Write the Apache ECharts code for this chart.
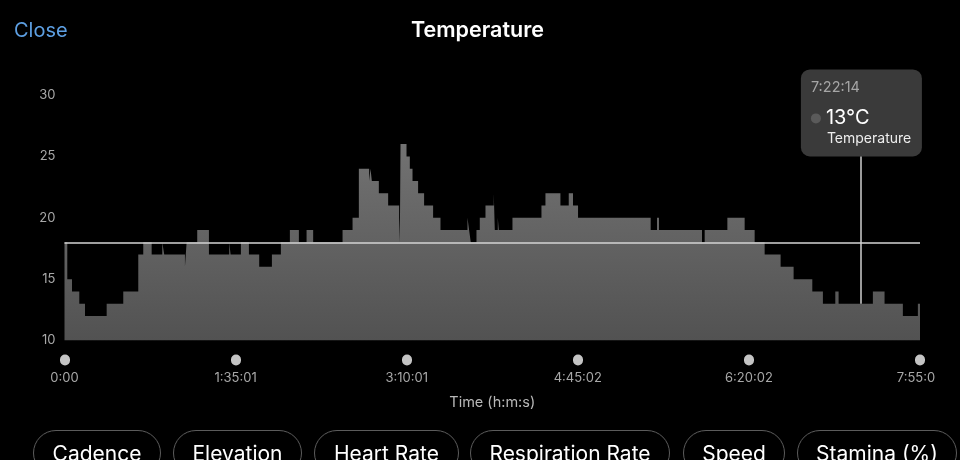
<!DOCTYPE html>
<html>
<head>
<meta charset="utf-8">
<title>Temperature</title>
<script src="https://cdn.jsdelivr.net/npm/echarts@6/dist/echarts.min.js"></script>
<style>
  html, body {
    margin: 0;
    padding: 0;
    background: #000;
    font-family: Inter, "Noto Sans", sans-serif;
  }
  .page {
    position: relative;
    width: 960px;
    height: 460px;
    overflow: hidden;
  }
  #chart {
    position: absolute;
    left: 0;
    top: 0;
    width: 935px;
    height: 460px;
  }
  .pill {
    position: absolute;
    top: 430px;
    height: 46px;
    box-sizing: border-box;
    border: 1px solid #5c5c5c;
    border-radius: 23px;
    color: #fff;
    font-size: 21px;
    line-height: 46px;
    text-align: center;
  }
</style>
</head>
<body>
<div class="page">
  <div id="chart"></div>
  <div class="pill" style="left:33px;width:128px">Cadence</div>
  <div class="pill" style="left:173px;width:129px">Elevation</div>
  <div class="pill" style="left:314px;width:145px">Heart Rate</div>
  <div class="pill" style="left:470px;width:200px">Respiration Rate</div>
  <div class="pill" style="left:683px;width:102px">Speed</div>
  <div class="pill" style="left:797px;width:160px">Stamina (%)</div>
</div>
<script>
// 温度记录，时间为秒，数值为 °C，每个值保持到下一个时间点
const timeSec = [
  0, 93, 250, 493, 683, 1405, 1958, 2458, 2624, 2904,
  3257, 3323, 4013, 4069, 4422, 4812, 5488, 5534, 5877, 6144,
  6487, 6910, 7209, 7509, 7809, 8065, 8285, 9264, 9597, 9807,
  10150, 10196, 10240, 10473, 10783, 11149, 11172, 11195, 11395, 11505,
  11595, 11781, 11981, 12281, 12527, 13426, 13480, 13536, 13726, 13836,
  14026, 14302, 14336, 14436, 14469, 14925, 15891, 16024, 16523, 16800,
  16943, 17110, 19530, 19740, 19807, 21239, 21329, 22085, 22661, 22994,
  23327, 23859, 24292, 24915, 25268, 25681, 25791, 26933, 27322, 27932,
  28432, 28503
];
const tempC = [
  18, 15, 14, 13, 12, 13, 14, 17, 18, 17,
  18, 17, 16, 18, 19, 17, 18, 17, 18, 17,
  16, 17, 18, 19, 18, 19, 18, 19, 20, 24,
  23, 24, 23, 22, 21, 20, 18, 26, 25, 24,
  23, 22, 21, 20, 19, 20, 19, 18, 19, 20,
  21, 22, 19, 20, 19, 20, 21, 22, 21, 22,
  21, 20, 19, 20, 19, 18, 19, 20, 19, 18,
  17, 16, 15, 14, 13, 14, 13, 14, 13, 12,
  13, 13
];

const totalSec = 28503;
const tickCount = 5;
const avgTemp = 18;
// 选中点（提示框）
const cursorSec = 26534;
const cursorTemp = 13;
const cursorLineTop = 25;
const yTicks = { min: 10, max: 30, step: 5 };

function fmtTime(sec) {
  const s = Math.round(sec);
  if (s === 0) return "0:00";
  const h = Math.floor(s / 3600);
  const m = Math.floor((s % 3600) / 60);
  const r = s % 60;
  return h + ":" + String(m).padStart(2, "0") + ":" + String(r).padStart(2, "0");
}

// 阶梯：在每个时间点先保持上一个值，再跳到新值
const stepData = [];
timeSec.forEach((t, i) => {
  if (i > 0) stepData.push([t, tempC[i - 1]]);
  stepData.push([t, tempC[i]]);
});

const chart = echarts.init(document.getElementById("chart"));
chart.setOption({
  backgroundColor: "#000",
  textStyle: { fontFamily: "Inter, 'Noto Sans', sans-serif" },
  animation: false,
  title: [
    {
      text: "Temperature",
      left: 411,
      top: 20,
      padding: 0,
      textStyle: { color: "#fff", fontSize: 21.5, fontWeight: 600 },
    },
    {
      text: "Close",
      left: 14,
      top: 21,
      padding: 0,
      textStyle: { color: "#5d9fe2", fontSize: 20, fontWeight: 400 },
    },
  ],
  // v6 默认会把轴标签挤进容器里，这里关掉，让最后一个标签被裁掉
  grid: { left: 64.5, right: 15, top: 95, bottom: 119.5, outerBoundsMode: "none", containLabel: false },
  xAxis: {
    type: "value",
    min: 0,
    max: totalSec,
    interval: totalSec / tickCount,
    offset: 19,
    name: "Time (h:m:s)",
    nameLocation: "middle",
    nameGap: 36,
    nameTextStyle: { color: "#b8b8b8", fontSize: 14.5 },
    axisLine: { show: false },
    axisTick: {
      show: true,
      length: 1,
      inside: false,
      lineStyle: { color: "#c4c4c4", width: 10, cap: "round" },
    },
    axisLabel: {
      color: "#a8a8a8",
      fontSize: 13,
      margin: 12,
      hideOverlap: false,
      formatter: (v) => fmtTime(v),
    },
    splitLine: { show: false },
  },
  yAxis: {
    type: "value",
    min: yTicks.min,
    max: yTicks.max,
    interval: yTicks.step,
    axisLine: { show: false },
    axisTick: { show: false },
    axisLabel: { color: "#a8a8a8", fontSize: 13, margin: 9 },
    splitLine: { show: false },
  },
  series: [
    {
      type: "line",
      data: stepData,
      symbol: "none",
      lineStyle: { width: 0, opacity: 0 },
      areaStyle: {
        origin: "start",
        opacity: 1,
        color: new echarts.graphic.LinearGradient(0, 0, 0, 1, [
          { offset: 0, color: "#727272" },
          { offset: 1, color: "#525252" },
        ]),
      },
      markLine: {
        silent: true,
        symbol: "none",
        label: { show: false },
        data: [
          { yAxis: avgTemp, lineStyle: { color: "#d4d4d4", width: 1.5, type: "solid" } },
          [
            { coord: [cursorSec, cursorTemp], lineStyle: { color: "#cfcfcf", width: 1.5, type: "solid" } },
            { coord: [cursorSec, cursorLineTop] },
          ],
        ],
      },
    },
  ],
});

// 提示框，位置跟随选中点
const anchorPx = chart.convertToPixel({ gridIndex: 0 }, [cursorSec, cursorLineTop]);
const bx = anchorPx[0] - 60;
const by = anchorPx[1] - 87;
chart.setOption({
  graphic: [
    {
      type: "group",
      x: bx,
      y: by,
      children: [
        {
          type: "rect",
          shape: { x: 0, y: 0, width: 121, height: 87, r: 9 },
          style: { fill: "#3a3a3a" },
        },
        {
          type: "text",
          x: 10,
          y: 18,
          style: {
            text: fmtTime(cursorSec),
            fill: "#a6a6a6",
            fontSize: 14.5,
            fontFamily: "Inter",
            verticalAlign: "middle",
          },
        },
        {
          type: "circle",
          shape: { cx: 15, cy: 49, r: 5 },
          style: { fill: "#5a5a5a" },
        },
        {
          type: "text",
          x: 25,
          y: 49,
          style: {
            text: cursorTemp + "°C",
            fill: "#fff",
            fontSize: 20,
            fontFamily: "Inter",
            verticalAlign: "middle",
          },
        },
        {
          type: "text",
          x: 26,
          y: 69,
          style: {
            text: "Temperature",
            fill: "#eee",
            fontSize: 14,
            fontFamily: "Inter",
            verticalAlign: "middle",
          },
        },
      ],
    },
  ],
});
</script>
</body>
</html>
